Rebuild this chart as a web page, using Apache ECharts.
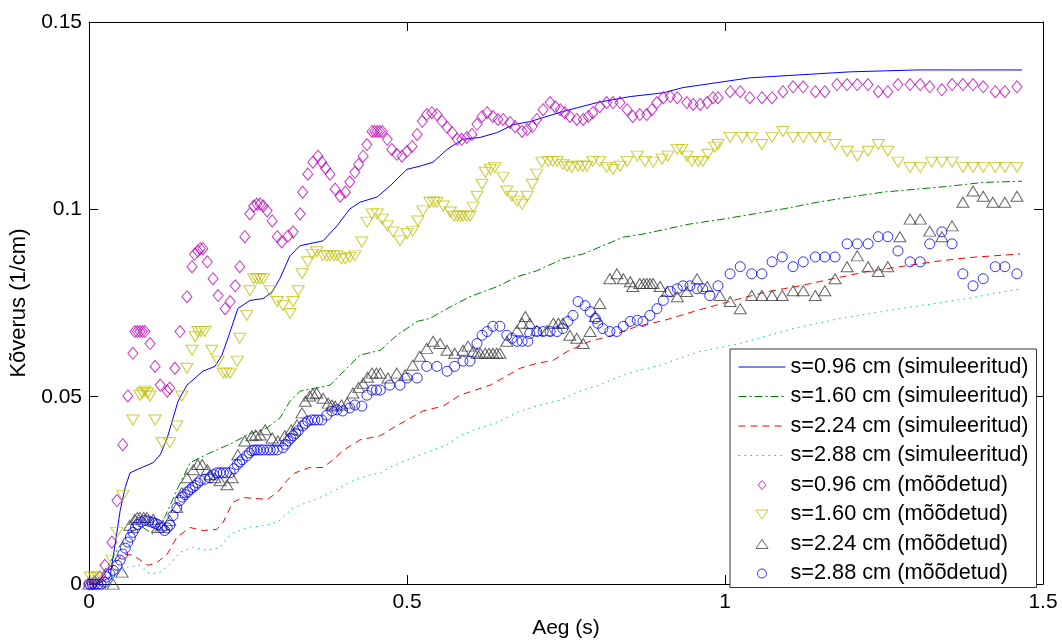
<!DOCTYPE html>
<html>
<head>
<meta charset="utf-8">
<script src="https://cdn.jsdelivr.net/npm/echarts@6/dist/echarts.min.js"></script>
<style>
html,body{margin:0;padding:0;background:#fff;}
#chart{width:1062px;height:644px;}
</style>
</head>
<body>
<div id="chart"></div>
<script>
// ---- data (x: Aeg (s), y: Kõverus (1/cm)) ----
const seriesNames = [
  's=0.96 cm (simuleeritud)', 's=1.60 cm (simuleeritud)', 's=2.24 cm (simuleeritud)', 's=2.88 cm (simuleeritud)',
  's=0.96 cm (mõõdetud)', 's=1.60 cm (mõõdetud)', 's=2.24 cm (mõõdetud)', 's=2.88 cm (mõõdetud)'
];

const sim096 = [[0,0],[0.017,0.0003],[0.033,0.0019],[0.041,0.0106],[0.049,0.0196],[0.057,0.0258],[0.0645,0.0297],[0.083,0.0311],[0.101,0.0324],[0.112,0.0345],[0.123,0.039],[0.140,0.0488],[0.154,0.0531],[0.179,0.0568],[0.198,0.0581],[0.209,0.0611],[0.222,0.0674],[0.234,0.0735],[0.253,0.0757],[0.274,0.0762],[0.288,0.0780],[0.300,0.0815],[0.316,0.0876],[0.332,0.0903],[0.368,0.0916],[0.390,0.0956],[0.410,0.1001],[0.426,0.1019],[0.453,0.1033],[0.473,0.1062],[0.500,0.1107],[0.520,0.1115],[0.541,0.1126],[0.563,0.1160],[0.588,0.1187],[0.615,0.1192],[0.642,0.1205],[0.667,0.1226],[0.693,0.1234],[0.745,0.1261],[0.799,0.1285],[0.851,0.1301],[0.903,0.1311],[0.934,0.1325],[0.987,0.1338],[1.039,0.1351],[1.118,0.1359],[1.197,0.1367],[1.302,0.1372],[1.467,0.1372]];

const sim160 = [[0,0],[0.017,0.0019],[0.033,0.0058],[0.049,0.0104],[0.064,0.0138],[0.085,0.0151],[0.101,0.0133],[0.119,0.0178],[0.138,0.0250],[0.159,0.0324],[0.190,0.0350],[0.226,0.0377],[0.248,0.0398],[0.280,0.0417],[0.300,0.0443],[0.316,0.0488],[0.332,0.0515],[0.379,0.0531],[0.426,0.0611],[0.458,0.0624],[0.484,0.0664],[0.516,0.0701],[0.536,0.0709],[0.563,0.0735],[0.599,0.0767],[0.642,0.0794],[0.673,0.0820],[0.704,0.0836],[0.745,0.0868],[0.777,0.0881],[0.808,0.0903],[0.840,0.0926],[0.871,0.0934],[0.909,0.0948],[0.945,0.0961],[0.997,0.0974],[1.091,0.1001],[1.145,0.1019],[1.197,0.1033],[1.248,0.1046],[1.302,0.1054],[1.354,0.1062],[1.406,0.1072],[1.467,0.1075]];

const sim224 = [[0,0],[0.017,0.0013],[0.036,0.0045],[0.053,0.0080],[0.069,0.0077],[0.093,0.0050],[0.107,0.0058],[0.123,0.0080],[0.138,0.0125],[0.159,0.0151],[0.179,0.0143],[0.201,0.0146],[0.211,0.0165],[0.226,0.0218],[0.242,0.0231],[0.280,0.0226],[0.296,0.0244],[0.311,0.0276],[0.324,0.0297],[0.347,0.0311],[0.368,0.0311],[0.384,0.0332],[0.399,0.0356],[0.426,0.0385],[0.458,0.0396],[0.478,0.0417],[0.500,0.0438],[0.525,0.0462],[0.557,0.0475],[0.583,0.0504],[0.631,0.0531],[0.651,0.0550],[0.678,0.0576],[0.704,0.0589],[0.730,0.0597],[0.752,0.0621],[0.788,0.0648],[0.824,0.0664],[0.862,0.0688],[0.903,0.0703],[0.956,0.0730],[1.013,0.0757],[1.066,0.0780],[1.118,0.0796],[1.170,0.0815],[1.223,0.0834],[1.275,0.0847],[1.327,0.0860],[1.381,0.0871],[1.464,0.0881]];

const sim288 = [[0,0],[0.017,0.0005],[0.041,0.0024],[0.060,0.0045],[0.080,0.0050],[0.096,0.0027],[0.112,0.0032],[0.127,0.0053],[0.143,0.0085],[0.164,0.0098],[0.186,0.0090],[0.206,0.0098],[0.222,0.0133],[0.248,0.0151],[0.280,0.0157],[0.300,0.0170],[0.321,0.0204],[0.352,0.0223],[0.374,0.0239],[0.395,0.0258],[0.415,0.0276],[0.437,0.0289],[0.458,0.0297],[0.478,0.0316],[0.509,0.0337],[0.541,0.0358],[0.563,0.0372],[0.583,0.0396],[0.615,0.0417],[0.646,0.0435],[0.678,0.0462],[0.709,0.0478],[0.741,0.0491],[0.772,0.0515],[0.803,0.0531],[0.835,0.0555],[0.866,0.0571],[0.898,0.0584],[0.929,0.0603],[0.961,0.0621],[1.019,0.0640],[1.107,0.0682],[1.181,0.0709],[1.275,0.0735],[1.381,0.0762],[1.464,0.0788]];

const meas096 = [[0,0],[0.005,0],[0.009,0.0005],[0.017,0.0019],[0.025,0.0050],[0.036,0.0112],[0.044,0.0223],[0.053,0.0372],[0.061,0.0502],[0.069,0.0616],[0.072,0.0674],[0.076,0.0674],[0.080,0.0674],[0.084,0.0674],[0.088,0.0674],[0.096,0.0642],[0.104,0.0581],[0.112,0.0531],[0.123,0.0515],[0.127,0.0523],[0.135,0.0576],[0.143,0.0674],[0.154,0.0767],[0.162,0.0847],[0.166,0.0880],[0.171,0.0889],[0.175,0.0895],[0.179,0.0895],[0.186,0.0860],[0.195,0.0815],[0.203,0.0770],[0.214,0.0735],[0.222,0.0754],[0.230,0.0796],[0.237,0.0847],[0.245,0.0927],[0.253,0.0988],[0.259,0.1009],[0.264,0.1014],[0.269,0.1014],[0.274,0.1009],[0.280,0.0996],[0.288,0.0969],[0.296,0.0927],[0.303,0.0913],[0.313,0.0929],[0.321,0.0940],[0.332,0.0988],[0.336,0.1046],[0.344,0.1094],[0.352,0.1126],[0.360,0.1142],[0.366,0.1126],[0.372,0.1110],[0.379,0.1094],[0.387,0.1054],[0.395,0.1035],[0.403,0.1046],[0.410,0.1073],[0.418,0.1099],[0.424,0.1120],[0.431,0.1142],[0.437,0.1173],[0.445,0.1208],[0.449,0.1208],[0.453,0.1208],[0.457,0.1208],[0.461,0.1208],[0.469,0.1187],[0.476,0.1160],[0.484,0.1147],[0.492,0.1142],[0.500,0.1155],[0.508,0.1168],[0.516,0.1200],[0.524,0.1235],[0.531,0.1253],[0.539,0.1258],[0.547,0.1253],[0.555,0.1235],[0.563,0.1219],[0.571,0.1205],[0.579,0.1187],[0.586,0.1187],[0.594,0.1192],[0.602,0.1200],[0.610,0.1227],[0.618,0.1248],[0.626,0.1258],[0.635,0.1248],[0.643,0.1240],[0.651,0.1240],[0.662,0.1232],[0.670,0.1221],[0.681,0.1208],[0.689,0.1213],[0.697,0.1221],[0.704,0.1240],[0.714,0.1266],[0.725,0.1285],[0.733,0.1274],[0.741,0.1266],[0.748,0.1258],[0.756,0.1248],[0.767,0.1240],[0.777,0.1240],[0.785,0.1248],[0.792,0.1258],[0.803,0.1274],[0.814,0.1285],[0.824,0.1285],[0.835,0.1285],[0.846,0.1266],[0.855,0.1248],[0.866,0.1253],[0.877,0.1253],[0.885,0.1266],[0.893,0.1285],[0.903,0.1298],[0.914,0.1301],[0.925,0.1298],[0.940,0.1285],[0.950,0.1280],[0.961,0.1280],[0.972,0.1285],[0.981,0.1298],[0.989,0.1298],[1.008,0.1314],[1.024,0.1314],[1.039,0.1298],[1.058,0.1298],[1.074,0.1298],[1.091,0.1314],[1.107,0.1327],[1.123,0.1327],[1.142,0.1314],[1.157,0.1314],[1.176,0.1333],[1.192,0.1333],[1.208,0.1333],[1.225,0.1333],[1.241,0.1314],[1.256,0.1314],[1.272,0.1333],[1.291,0.1333],[1.307,0.1333],[1.322,0.1327],[1.341,0.1319],[1.357,0.1333],[1.374,0.1333],[1.390,0.1333],[1.406,0.1327],[1.425,0.1314],[1.440,0.1314],[1.459,0.1327]];

const meas160 = [[0.002,0.0019],[0.008,0.0019],[0.013,0.0019],[0.036,0.0064],[0.044,0.0138],[0.053,0.0236],[0.069,0.0438],[0.080,0.0504],[0.084,0.0510],[0.088,0.0515],[0.092,0.0510],[0.096,0.0502],[0.104,0.0438],[0.115,0.0377],[0.127,0.0377],[0.138,0.0422],[0.146,0.0502],[0.154,0.0576],[0.162,0.0624],[0.167,0.0660],[0.171,0.0674],[0.176,0.0674],[0.182,0.0674],[0.193,0.0624],[0.203,0.0595],[0.211,0.0563],[0.216,0.0563],[0.222,0.0563],[0.233,0.0595],[0.237,0.0656],[0.248,0.0717],[0.253,0.0783],[0.259,0.0815],[0.264,0.0815],[0.269,0.0815],[0.274,0.0815],[0.285,0.0783],[0.296,0.0754],[0.305,0.0743],[0.316,0.0722],[0.321,0.0754],[0.329,0.0783],[0.335,0.0828],[0.344,0.0860],[0.351,0.0880],[0.358,0.0887],[0.368,0.0876],[0.374,0.0876],[0.379,0.0876],[0.385,0.0876],[0.390,0.0876],[0.397,0.0868],[0.403,0.0868],[0.410,0.0872],[0.418,0.0876],[0.429,0.0913],[0.437,0.0966],[0.445,0.0988],[0.453,0.0988],[0.461,0.0974],[0.469,0.0956],[0.478,0.0940],[0.489,0.0916],[0.500,0.0935],[0.509,0.0942],[0.517,0.0969],[0.525,0.0996],[0.536,0.1019],[0.542,0.1019],[0.547,0.1019],[0.557,0.1009],[0.568,0.0993],[0.574,0.0982],[0.579,0.0982],[0.584,0.0982],[0.588,0.0982],[0.594,0.0982],[0.599,0.0982],[0.604,0.1006],[0.610,0.1035],[0.618,0.1067],[0.623,0.1099],[0.631,0.1107],[0.638,0.1112],[0.651,0.1086],[0.657,0.1049],[0.665,0.1035],[0.673,0.1022],[0.681,0.1014],[0.689,0.1035],[0.697,0.1067],[0.704,0.1094],[0.712,0.1126],[0.722,0.1128],[0.729,0.1128],[0.736,0.1128],[0.745,0.1120],[0.752,0.1115],[0.759,0.1112],[0.769,0.1115],[0.776,0.1115],[0.783,0.1115],[0.792,0.1128],[0.803,0.1128],[0.814,0.1112],[0.824,0.1107],[0.835,0.1115],[0.846,0.1128],[0.862,0.1142],[0.874,0.1128],[0.887,0.1126],[0.901,0.1134],[0.910,0.1142],[0.925,0.1160],[0.932,0.1160],[0.940,0.1142],[0.948,0.1128],[0.958,0.1128],[0.965,0.1128],[0.973,0.1147],[0.984,0.1166],[0.989,0.1173],[1.008,0.1192],[1.027,0.1192],[1.042,0.1192],[1.058,0.1173],[1.074,0.1192],[1.091,0.1208],[1.107,0.1192],[1.123,0.1192],[1.142,0.1192],[1.157,0.1192],[1.173,0.1173],[1.192,0.1155],[1.208,0.1142],[1.225,0.1155],[1.241,0.1173],[1.256,0.1155],[1.272,0.1126],[1.291,0.1112],[1.307,0.1112],[1.325,0.1126],[1.341,0.1126],[1.357,0.1126],[1.374,0.1112],[1.390,0.1112],[1.406,0.1112],[1.425,0.1112],[1.440,0.1112],[1.459,0.1112]];

const meas224 = [[0,0],[0.017,0],[0.038,0],[0.052,0.0032],[0.064,0.0157],[0.072,0.0173],[0.076,0.0178],[0.080,0.0178],[0.086,0.0178],[0.091,0.0178],[0.101,0.0173],[0.108,0.0151],[0.116,0.0157],[0.127,0.0170],[0.138,0.0204],[0.146,0.0244],[0.154,0.0284],[0.164,0.0305],[0.171,0.0319],[0.178,0.0319],[0.186,0.0305],[0.190,0.0292],[0.198,0.0284],[0.206,0.0276],[0.217,0.0265],[0.225,0.0284],[0.234,0.0345],[0.245,0.0382],[0.256,0.0396],[0.262,0.0398],[0.269,0.0398],[0.277,0.0412],[0.288,0.0390],[0.297,0.0382],[0.308,0.0396],[0.318,0.0412],[0.327,0.0425],[0.335,0.0457],[0.340,0.0488],[0.347,0.0502],[0.352,0.0508],[0.358,0.0510],[0.368,0.0496],[0.376,0.0483],[0.382,0.0478],[0.387,0.0475],[0.397,0.0478],[0.406,0.0483],[0.415,0.0510],[0.424,0.0525],[0.431,0.0536],[0.438,0.0552],[0.445,0.0563],[0.452,0.0563],[0.458,0.0563],[0.470,0.0550],[0.484,0.0563],[0.497,0.0558],[0.509,0.0584],[0.520,0.0608],[0.531,0.0629],[0.541,0.0648],[0.552,0.0642],[0.563,0.0624],[0.575,0.0616],[0.588,0.0624],[0.596,0.0635],[0.604,0.0621],[0.610,0.0616],[0.615,0.0616],[0.623,0.0616],[0.629,0.0616],[0.635,0.0616],[0.641,0.0616],[0.646,0.0616],[0.657,0.0648],[0.673,0.0677],[0.681,0.0696],[0.686,0.0714],[0.693,0.0696],[0.704,0.0677],[0.720,0.0677],[0.730,0.0696],[0.738,0.0696],[0.745,0.0696],[0.756,0.0664],[0.767,0.0656],[0.777,0.0642],[0.788,0.0674],[0.796,0.0714],[0.803,0.0749],[0.819,0.0815],[0.830,0.0828],[0.840,0.0815],[0.851,0.0807],[0.855,0.0794],[0.866,0.0802],[0.872,0.0802],[0.877,0.0802],[0.882,0.0802],[0.887,0.0802],[0.898,0.0794],[0.909,0.0781],[0.925,0.0767],[0.940,0.0781],[0.956,0.0815],[0.972,0.0794],[0.992,0.0770],[1.008,0.0754],[1.024,0.0735],[1.042,0.0770],[1.058,0.0770],[1.074,0.0770],[1.090,0.0770],[1.107,0.0783],[1.123,0.0783],[1.142,0.0770],[1.157,0.0783],[1.173,0.0815],[1.192,0.0847],[1.208,0.0876],[1.225,0.0847],[1.241,0.0834],[1.256,0.0847],[1.275,0.0927],[1.291,0.0974],[1.307,0.0974],[1.322,0.0942],[1.341,0.0927],[1.357,0.0956],[1.374,0.1019],[1.390,0.1049],[1.406,0.1035],[1.421,0.1019],[1.440,0.1019],[1.459,0.1035]];

const meas288 = [[0,0],[0.005,0],[0.009,0],[0.014,0],[0.019,0],[0.024,0.0005],[0.028,0.0019],[0.033,0.0027],[0.038,0.0037],[0.044,0.0050],[0.049,0.0064],[0.053,0.0080],[0.057,0.0096],[0.061,0.0112],[0.065,0.0125],[0.069,0.0138],[0.073,0.0150],[0.077,0.0159],[0.082,0.0166],[0.088,0.0170],[0.094,0.0168],[0.099,0.0165],[0.104,0.0162],[0.108,0.0159],[0.114,0.0150],[0.119,0.0143],[0.123,0.0150],[0.127,0.0157],[0.132,0.0183],[0.138,0.0204],[0.143,0.0223],[0.147,0.0232],[0.151,0.0239],[0.155,0.0246],[0.159,0.0252],[0.163,0.0258],[0.167,0.0263],[0.171,0.0270],[0.175,0.0276],[0.182,0.0280],[0.190,0.0284],[0.196,0.0292],[0.201,0.0297],[0.206,0.0297],[0.211,0.0297],[0.216,0.0297],[0.222,0.0297],[0.228,0.0308],[0.233,0.0319],[0.237,0.0326],[0.241,0.0332],[0.248,0.0342],[0.252,0.0350],[0.256,0.0356],[0.260,0.0358],[0.264,0.0358],[0.269,0.0358],[0.274,0.0358],[0.280,0.0358],[0.285,0.0358],[0.290,0.0358],[0.296,0.0358],[0.305,0.0364],[0.309,0.0373],[0.313,0.0382],[0.317,0.0389],[0.321,0.0396],[0.325,0.0402],[0.329,0.0409],[0.336,0.0422],[0.340,0.0429],[0.344,0.0435],[0.350,0.0438],[0.355,0.0438],[0.360,0.0438],[0.366,0.0438],[0.374,0.0451],[0.382,0.0462],[0.390,0.0465],[0.399,0.0462],[0.410,0.0470],[0.418,0.0478],[0.429,0.0475],[0.437,0.0504],[0.445,0.0518],[0.452,0.0518],[0.458,0.0518],[0.473,0.0531],[0.489,0.0531],[0.500,0.0550],[0.516,0.0550],[0.531,0.0581],[0.547,0.0581],[0.563,0.0568],[0.575,0.0581],[0.588,0.0595],[0.599,0.0595],[0.610,0.0642],[0.618,0.0664],[0.626,0.0674],[0.635,0.0688],[0.646,0.0688],[0.657,0.0664],[0.665,0.0656],[0.673,0.0648],[0.681,0.0648],[0.690,0.0648],[0.693,0.0669],[0.704,0.0674],[0.714,0.0674],[0.725,0.0674],[0.736,0.0674],[0.745,0.0682],[0.753,0.0701],[0.761,0.0717],[0.769,0.0754],[0.780,0.0743],[0.788,0.0727],[0.796,0.0709],[0.800,0.0696],[0.808,0.0682],[0.819,0.0674],[0.830,0.0674],[0.840,0.0688],[0.851,0.0701],[0.862,0.0704],[0.871,0.0701],[0.882,0.0717],[0.893,0.0735],[0.903,0.0757],[0.914,0.0781],[0.925,0.0788],[0.934,0.0796],[0.945,0.0796],[0.956,0.0788],[0.965,0.0788],[0.976,0.0770],[0.989,0.0796],[1.008,0.0828],[1.024,0.0847],[1.042,0.0828],[1.058,0.0828],[1.074,0.0860],[1.090,0.0873],[1.107,0.0847],[1.123,0.0860],[1.142,0.0873],[1.157,0.0873],[1.173,0.0873],[1.192,0.0908],[1.208,0.0908],[1.225,0.0908],[1.241,0.0927],[1.256,0.0927],[1.272,0.0889],[1.291,0.0860],[1.307,0.0860],[1.322,0.0908],[1.341,0.0940],[1.357,0.0908],[1.374,0.0828],[1.390,0.0796],[1.406,0.0815],[1.425,0.0847],[1.440,0.0847],[1.459,0.0828]];

const xTicks = {min: 0, max: 1.5, interval: 0.5};
const yTicks = {min: 0, max: 0.15, interval: 0.05};
const xName = 'Aeg (s)';
const yName = 'Kõverus (1/cm)';

// ---- chart ----
const FONT = 'Liberation Sans, Arial, sans-serif';
const chart = echarts.init(document.getElementById('chart'), null, {renderer: 'canvas'});

const axisCommon = {
  axisLine: {show: true, onZero: false, lineStyle: {color: '#000', width: 1}},
  axisTick: {show: true, inside: true, length: 9, lineStyle: {color: '#000', width: 1}},
  splitLine: {show: false}
};

function lineSeries(name, data, color, type) {
  return {
    name, type: 'line', data, symbol: 'none', showSymbol: false, animation: false,
    lineStyle: {color, width: 1, type}, itemStyle: {color}, clip: true, z: 2
  };
}
function scatterSeries(name, data, color, symbol, size, rotate) {
  return {
    name, type: 'scatter', data, symbol, symbolSize: size, symbolRotate: rotate || 0,
    symbolKeepAspect: false, animation: false, clip: false, z: 3,
    itemStyle: {color: 'rgba(0,0,0,0)', borderColor: color, borderWidth: 1}
  };
}

// legend marker icons (hollow outlines)
const legendIcons = {
  diamond: 'path://M4.5,0L9,5L4.5,10L0,5Z',
  triDown: 'path://M0,0L12,0L6,9Z',
  triUp: 'path://M6,0L12,9L0,9Z'
};

const option = {
  backgroundColor: '#fff',
  animation: false,
  grid: {left: 89, right: 19, top: 22, bottom: 57, containLabel: false},
  xAxis: [
    Object.assign({type: 'value', position: 'bottom', min: xTicks.min, max: xTicks.max, interval: xTicks.interval,
      name: xName, nameLocation: 'middle', nameGap: 33,
      nameTextStyle: {fontFamily: FONT, fontSize: 21, color: '#000'},
      axisLabel: {fontFamily: FONT, fontSize: 21, color: '#000', margin: 8}}, axisCommon),
    Object.assign({type: 'value', position: 'top', min: xTicks.min, max: xTicks.max, interval: xTicks.interval,
      axisLabel: {show: false}}, axisCommon)
  ],
  yAxis: [
    Object.assign({type: 'value', position: 'left', min: yTicks.min, max: yTicks.max, interval: yTicks.interval,
      name: yName, nameLocation: 'middle', nameGap: 46,
      nameTextStyle: {fontFamily: FONT, fontSize: 22, color: '#000'},
      axisLabel: {fontFamily: FONT, fontSize: 21, color: '#000', margin: 7}}, axisCommon),
    Object.assign({type: 'value', position: 'right', min: yTicks.min, max: yTicks.max, interval: yTicks.interval,
      axisLabel: {show: false}}, axisCommon)
  ],
  legend: {
    orient: 'vertical', left: 730, top: 349,
    backgroundColor: '#fff', borderColor: '#333', borderWidth: 1,
    padding: [7, 8, 3, 8], itemGap: 7.5, itemWidth: 47, itemHeight: 9,
    textStyle: {fontFamily: FONT, fontSize: 21.7, color: '#000', lineHeight: 21},
    symbolKeepAspect: true,
    lineStyle: {width: 1},
    itemStyle: {borderWidth: 1},
    data: [
      {name: seriesNames[0], itemStyle: {opacity: 0}},
      {name: seriesNames[1], itemStyle: {opacity: 0}},
      {name: seriesNames[2], itemStyle: {opacity: 0}},
      {name: seriesNames[3], itemStyle: {opacity: 0}},
      {name: seriesNames[4], icon: legendIcons.diamond},
      {name: seriesNames[5], icon: legendIcons.triDown},
      {name: seriesNames[6], icon: legendIcons.triUp},
      {name: seriesNames[7], icon: 'circle'}
    ],
    z: 10
  },
  series: [
    lineSeries(seriesNames[0], sim096, '#0000ff', 'solid'),
    lineSeries(seriesNames[1], sim160, '#008000', [8, 3, 2, 3]),
    lineSeries(seriesNames[2], sim224, '#ff0000', [7, 5]),
    lineSeries(seriesNames[3], sim288, '#00bfbf', [1.5, 4.5]),
    scatterSeries(seriesNames[4], meas096, '#bf00bf', 'diamond', [10, 12]),
    scatterSeries(seriesNames[5], meas160, '#bfbf00', 'triangle', [12, 10], 180),
    scatterSeries(seriesNames[6], meas224, '#404040', 'triangle', [12, 10]),
    scatterSeries(seriesNames[7], meas288, '#0000ff', 'circle', 10)
  ]
};
chart.setOption(option);
</script>
</body>
</html>
